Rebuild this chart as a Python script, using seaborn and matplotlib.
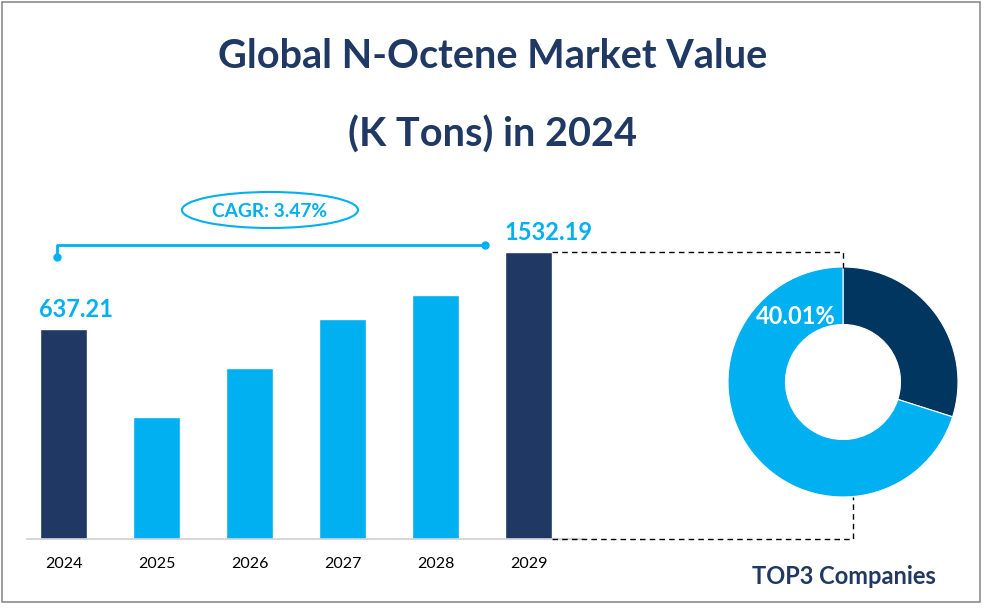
import numpy as np
import matplotlib
matplotlib.use("Agg")
import matplotlib.pyplot as plt
import seaborn as sns
from matplotlib.patches import Ellipse, Rectangle
from matplotlib.lines import Line2D

# data
years = ["2024", "2025", "2026", "2027", "2028", "2029"]
bar_values = [637.21, 370, 519, 668, 740, 871]   # drawn heights (2024 bar = 637.21)
bar_labels = ["637.21", "", "", "", "", "1532.19"]
cagr_text = "CAGR: 3.47%"
share_values = [29.9, 70.1]      # dark slice, light slice
share_label = "40.01%"
title_lines = ["Global N-Octene Market Value", "(K Tons) in 2024"]

navy = "#1F3864"
light = "#00B0F0"
donut_dark = "#003660"
bar_colors = [navy, light, light, light, light, navy]

sns.set_style("white")
plt.rcParams['font.family'] = ['Lato', 'DejaVu Sans']

W, H = 986, 611
fig = plt.figure(figsize=(W / 100, H / 100), dpi=100)


def fx(x):
    return x / W


def fy(y):
    return 1 - y / H


# frame round the whole picture
fig.patches.append(Rectangle((fx(2), fy(602)), fx(978), (600) / H, transform=fig.transFigure,
                             fill=False, edgecolor="#8c8c8c", linewidth=1.2))

# title
fig.text(0.5, fy(57), title_lines[0], ha="center", va="center", fontsize=28.5,
         fontweight="bold", color=navy)
fig.text(0.5, fy(135), title_lines[1], ha="center", va="center", fontsize=28.5,
         fontweight="bold", color=navy)

# bar chart
ax = fig.add_axes([fx(27), fy(539), fx(584 - 27), (539 - 200) / H])
sns.barplot(x=years, y=bar_values, hue=years, palette=bar_colors, legend=False,
            width=0.5, saturation=1, ax=ax)
px_per_unit = (539 - 329) / bar_values[0]
ymax = (539 - 200) / px_per_unit
ax.set_xlim((27 - 63.5) / 93, (584 - 63.5) / 93)
ax.set_ylim(0, ymax)
for s in ["top", "right", "left"]:
    ax.spines[s].set_visible(False)
ax.spines["bottom"].set_color("#d0d0d0")
ax.spines["bottom"].set_linewidth(1.2)
ax.set_yticks([])
ax.set_xlabel("")
ax.set_ylabel("")
ax.tick_params(axis="x", length=0, pad=13, labelsize=11.5, labelcolor="#000000")
ax.patch.set_alpha(0)

for i, lab in enumerate(bar_labels):
    if lab:
        ax.text(i - 0.26, bar_values[i] + 8 / px_per_unit, lab, ha="left", va="bottom",
                fontsize=17, fontweight="bold", color=light)

# CAGR bracket
unit = 1 / px_per_unit
y_line = (539 - 245) * unit
x0, x1 = -0.07, 4.53
ax.plot([x0, x0, x1], [(539 - 257) * unit, y_line, y_line], color=light, lw=2,
        clip_on=False, solid_capstyle="butt")
ax.plot([x0, x1], [(539 - 257) * unit, y_line], "o", color=light, ms=5, clip_on=False)
ell = Ellipse((fx(270), fy(210)), fx(176), 36 / H, transform=fig.transFigure,
              fill=False, edgecolor=light, linewidth=1.5)
fig.patches.append(ell)
fig.text(fx(270), fy(211), cagr_text, ha="center", va="center", fontsize=13.8,
         fontweight="bold", color=light)

# donut
cx, cy, r = 843, 382, 115
ax2 = fig.add_axes([fx(cx - r), fy(cy + r), fx(2 * r), 2 * r / H])
ax2.pie(share_values, colors=[donut_dark, light], startangle=90, counterclock=False,
        radius=1, wedgeprops=dict(width=0.5, edgecolor="white", linewidth=0.8))
ax2.set_xlim(-1, 1)
ax2.set_ylim(-1, 1)
ax2.set_aspect("auto")
ax2.axis("off")
fig.text(fx(796), fy(316), share_label, ha="center", va="center", fontsize=17,
         fontweight="bold", color="white")

fig.text(fx(844), fy(576), "TOP3 Companies", ha="center", va="center", fontsize=17,
         fontweight="bold", color=navy)

# dashed connectors from the 2029 bar to the donut
fig.canvas.draw()
to_fig = fig.transFigure.inverted()
bx, btop = ax.transData.transform((5 + 0.25, bar_values[5]))
_, bbot = ax.transData.transform((5 + 0.25, 0))
bx, btop = to_fig.transform((bx, btop))
_, bbot = to_fig.transform((0, bbot))
dash = dict(color="black", lw=1, linestyle=(0, (4, 3)), transform=fig.transFigure)
fig.lines.append(Line2D([bx, fx(843), fx(843)], [btop, btop, fy(268)], **dash))
fig.lines.append(Line2D([bx, fx(853), fx(853)], [bbot, bbot, fy(497)], **dash))

fig.savefig("out.png", dpi=100, facecolor="white")
